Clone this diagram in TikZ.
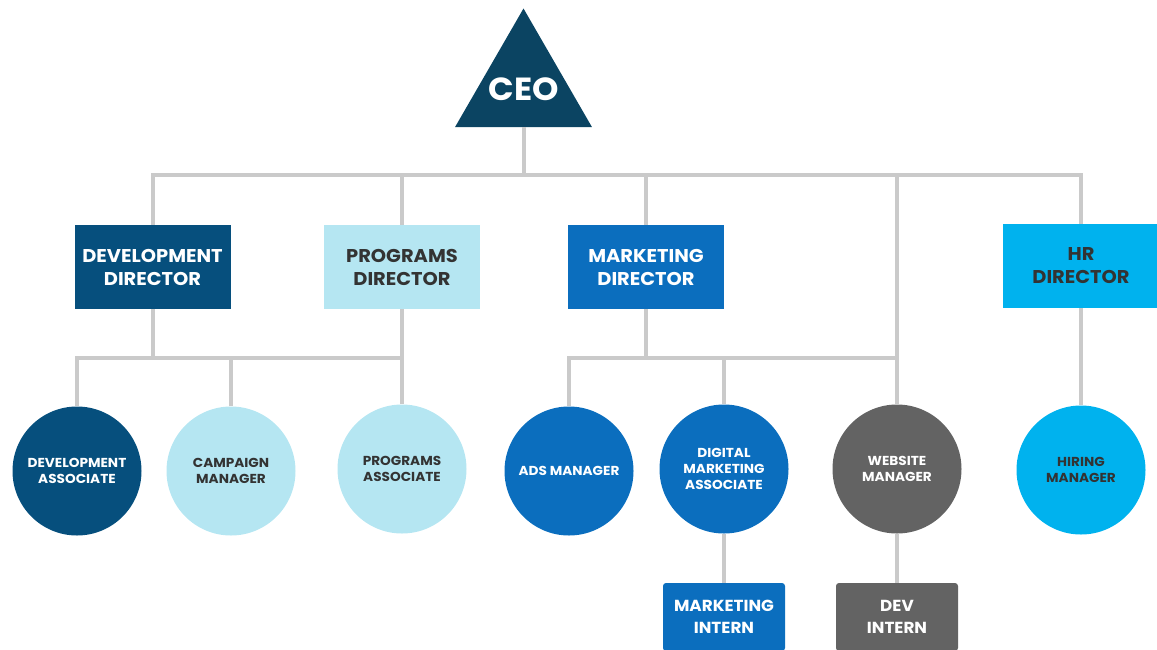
\documentclass[tikz,border=0pt]{standalone}
\usepackage{fontspec}
\setmainfont{Poppins}[FakeStretch=1.05]
\usetikzlibrary{shapes.geometric}
\definecolor{ceoc}{HTML}{0B4462}
\definecolor{devc}{HTML}{064F7D}
\definecolor{progc}{HTML}{B5E6F2}
\definecolor{mktc}{HTML}{0B6EBE}
\definecolor{hrc}{HTML}{00B2EE}
\definecolor{grayc}{HTML}{636363}
\definecolor{linec}{HTML}{CACACA}
\definecolor{txtc}{HTML}{333333}
\tikzset{
  dirbox/.style={rectangle, minimum width=156pt, minimum height=84pt, inner sep=0pt, align=center,
     font=\fontsize{18.5}{23}\selectfont\bfseries},
  person/.style={circle, minimum size=129pt, inner sep=0pt, align=center,
     font=\fontsize{13}{16}\selectfont\bfseries},
  intern/.style={rectangle, rounded corners=3pt, minimum width=122pt, minimum height=68pt, inner sep=0pt, align=center,
     font=\fontsize{16}{22}\selectfont\bfseries},
  conn/.style={draw=linec, line width=4pt},
}
\begin{document}
\begin{tikzpicture}[x=1pt,y=-1pt]
\useasboundingbox (0,0) rectangle (1157,649);
% nodes
\node[regular polygon, regular polygon sides=3, minimum size=158pt, inner sep=0pt, fill=ceoc,
  label={[text=white, font=\fontsize{32}{32}\selectfont\bfseries, yshift=-2pt]center:CEO}] (ceo) at (523.5,87.5) {};
\node[dirbox, fill=devc, text=white] (devd) at (152.5,267) {DEVELOPMENT\\DIRECTOR};
\node[dirbox, fill=progc, text=txtc] (progd) at (402,267) {PROGRAMS\\DIRECTOR};
\node[dirbox, fill=mktc, text=white] (mktd) at (646,267) {MARKETING\\DIRECTOR};
\node[dirbox, fill=hrc, text=txtc] (hrd) at (1081,266) {HR\\DIRECTOR};
\node[person, fill=devc, text=white] (deva) at (77,471) {DEVELOPMENT\\ASSOCIATE};
\node[person, fill=progc, text=txtc] (camp) at (231,471) {CAMPAIGN\\MANAGER};
\node[person, fill=progc, text=txtc] (proga) at (402,469) {PROGRAMS\\ASSOCIATE};
\node[person, fill=mktc, text=white] (ads) at (569,471) {ADS MANAGER};
\node[person, fill=mktc, text=white] (dma) at (724,469) {DIGITAL\\MARKETING\\ASSOCIATE};
\node[person, fill=grayc, text=white] (web) at (897,469) {WEBSITE\\MANAGER};
\node[person, fill=hrc, text=txtc] (hire) at (1081,470) {HIRING\\MANAGER};
\node[intern, fill=mktc, text=white] (mint) at (724,617) {MARKETING\\INTERN};
\node[intern, fill=grayc, text=white] (dint) at (897,617) {DEV\\INTERN};
% connectors
\path[conn] (ceo.south) -- (ceo.south |- 0,175);
\path[conn] (devd.north) -- (devd.north |- 0,175) -| (hrd.north);
\path[conn] (progd.north) -- (progd.north |- 0,175);
\path[conn] (mktd.north) -- (mktd.north |- 0,175);
\path[conn] (web.north) -- (web.north |- 0,175);
\path[conn] (devd.south) -- (devd.south |- 0,358);
\path[conn] (deva.north) -- (deva.north |- 0,358) -| (proga.north);
\path[conn] (progd.south) -- (progd.south |- 0,358);
\path[conn] (camp.north) -- (camp.north |- 0,358);
\path[conn] (mktd.south) -- (mktd.south |- 0,358);
\path[conn] (ads.north) -- (ads.north |- 0,358) -- (web.north |- 0,358);
\path[conn] (dma.north) -- (dma.north |- 0,358);
\path[conn] (hrd.south) -- (hire.north);
\path[conn] (dma.south) -- (mint.north);
\path[conn] (web.south) -- (dint.north);
\end{tikzpicture}
\end{document}
